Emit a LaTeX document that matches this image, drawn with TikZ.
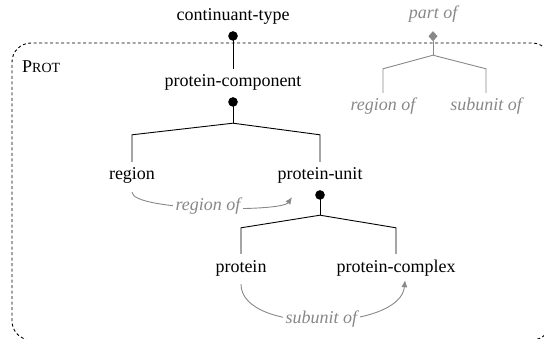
\documentclass[tikz,border=0pt]{standalone}
\usepackage{fontspec}
\setmainfont{Liberation Serif}
\usetikzlibrary{arrows.meta,calc}
\definecolor{relgray}{RGB}{136,136,136}

\begin{document}
\begin{tikzpicture}[x=1pt,y=1pt,>={Latex[length=7pt,width=6pt]},
    every node/.style={font=\fontsize{18}{22}\selectfont,inner sep=4pt,text height=14pt,text depth=8pt},
    isa/.style={line width=1pt,{Circle[length=9.5pt]}-,shorten <=-2pt},
    tree/.style={line width=0.9pt},
    rel/.style={relgray,line width=0.9pt},
    rellabel/.style={relgray,font=\fontsize{18}{22}\selectfont\itshape}]
  \path[use as bounding box,clip] (0,0) rectangle (544,338);

  % the PROT module
  \draw[line width=0.9pt,dash pattern=on 3pt off 2.5pt,rounded corners=19pt]
    (12,-2) rectangle (551,295);
  \node[anchor=west] (prot-name) at (18,268) {P{\fontsize{14}{16}\selectfont ROT}};

  \node (ct)   at (233,320) {continuant-type};
  \node (pc)   at (233,254) {protein-component};
  \node (reg)  at (132,161) {region};
  \node (pu)   at (320,161) {protein-unit};
  \node (prot) at (241,69)  {protein};
  \node (pcx)  at (396,69)  {protein-complex};

  % is-a tree
  \draw[isa] (ct.south) -- (pc.north);
  \draw[isa] (pc.south) -- ++(0,-24) coordinate (j1);
  \draw[tree] (reg.north) -- ++(0,27) -- (j1) -- ($(pu.north)+(0,27)$) -- (pu.north);
  \draw[isa] (pu.south) -- ++(0,-23) coordinate (j2);
  \draw[tree] (prot.north) -- ++(0,26) -- (j2) -- ($(pcx.north)+(0,26)$) -- (pcx.north);

  % relations
  \draw[rel,->] (reg.south) to[out=-90,in=-125,looseness=0.3]
    node[rellabel,fill=white,inner sep=3pt] {region of} ($(pu.south)+(-28,-5)$);
  \draw[rel,->] (prot.south) to[out=-90,in=-95,looseness=0.79]
    node[rellabel,fill=white,inner sep=3pt] {subunit of} ($(pcx.south)+(9,4)$);

  % relation hierarchy
  \node[rellabel] (partof) at (433,322) {part of};
  \node[rellabel] (regof)  at (383,230) {region of};
  \node[rellabel] (subof)  at (486,230) {subunit of};
  \draw[rel,{Diamond[length=10pt,width=9pt]}-] (partof.south) -- ++(0,-24) coordinate (j0);
  \draw[rel] (regof.north) -- ++(0,24) -- (j0) -- ($(subof.north)+(0,24)$) -- (subof.north);
\end{tikzpicture}
\end{document}
